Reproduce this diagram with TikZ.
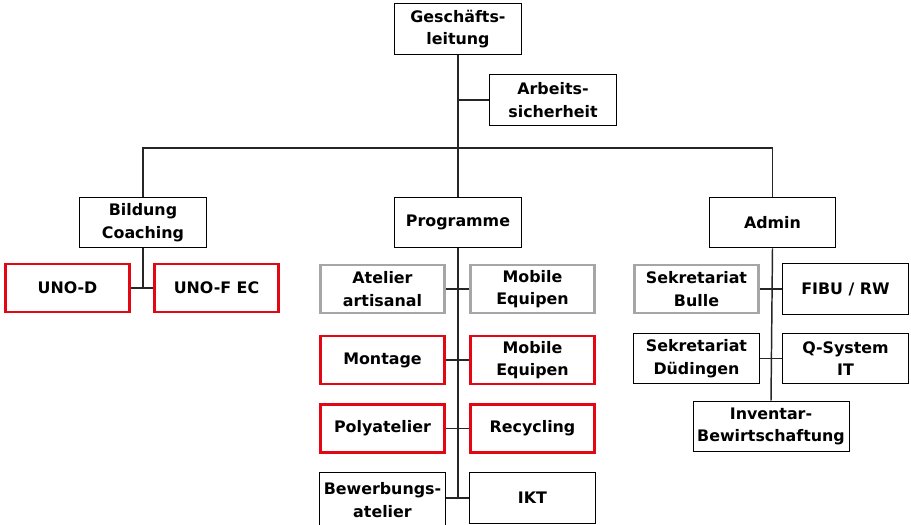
\documentclass[tikz,border=0pt]{standalone}
\usepackage{fontspec}
\setmainfont{DejaVu Sans}
\usepackage{tikz}
\usetikzlibrary{calc, positioning}
\definecolor{unored}{RGB}{227,6,19}
\definecolor{boxgrey}{RGB}{166,166,166}
\tikzstyle{boxb}=[shape=rectangle, draw=black, line width=0.75pt, fill=white, align=center, font=\bfseries\fontsize{11.9}{17}\selectfont, minimum width=95pt, minimum height=38pt, inner sep=1pt]
\tikzstyle{boxr}=[boxb, draw=unored, line width=2.2pt, minimum width=93.5pt, minimum height=36pt]
\tikzstyle{boxg}=[boxb, draw=boxgrey, line width=2.2pt, minimum width=93.5pt, minimum height=36pt]
\tikzstyle{conn}=[draw=black!85, line width=1.1pt]

\begin{document}
\begin{tikzpicture}[x=0.75pt, y=-0.75pt]
\useasboundingbox (0,0) rectangle (911,525);
\clip (0,0) rectangle (911,525);
\coordinate (tl) at (143,148);
\node [boxb](gl) at (458,29){Geschäfts-\\leitung};
\node [boxb](asi) at (553,100){Arbeits-\\sicherheit};
\node [boxb](bild) at (143,222.5){Bildung\\Coaching};
\node [boxb](prog) at (458,222.5){Programme};
\node [boxb](adm) at (772.5,222.5){Admin};
\draw [conn] (gl.south) -- (prog.north) (asi.west) -- (asi.west -| gl.south);
\draw [conn] (bild.north) |- (tl -| adm.north) -- (adm.north);
% Bildung Coaching
\tikzstyle{every node}=[boxr];
\node (unod) at (67.5,288){UNO-D};
\node (unof) at (216.5,288){UNO-F EC};
\draw [conn] (bild.south) -- (bild.south |- unod.east) (unod.east) -- (unof.west);
% Programme
\tikzstyle{every node}=[boxg];
\node (atel) at (382.5,289){Atelier\\artisanal};
\node (mob1) at (532.5,289){Mobile\\Equipen};
\tikzstyle{every node}=[boxr];
\node (mont) at (382.5,360){Montage};\node (mob2) at (532.5,360){Mobile\\Equipen};
\node (poly) at (382.5,428.5){Polyatelier};\node (recy) at (532.5,428.5){Recycling};
\tikzstyle{every node}=[boxb];
\node [minimum height=41pt](bew) at (382.5,500){Bewerbungs-\\atelier};
\node (ikt) at (532.5,498){IKT};
\draw [conn] (prog.south) -- (prog.south |- ikt.west);
\draw [conn] (atel.east) -- (mob1.west) (mont.east) -- (mob2.west) (poly.east) -- (recy.west);
\draw [conn] (bew.east |- ikt.west) -- (ikt.west);
% Admin
\tikzstyle{every node}=[boxg];
\node (sbul) at (696.5,289){Sekretariat\\Bulle};
\tikzstyle{every node}=[boxb];
\node (fibu) at (845.5,289){FIBU / RW};
\node (sdue) at (696.5,358.5){Sekretariat\\Düdingen};
\node (qsys) at (845.5,358.5){Q-System\\IT};
\node [minimum width=117pt](inv) at (771,426.5){Inventar-\\Bewirtschaftung};
\draw [conn] (adm.south) -- (inv.north);
\draw [conn] (sbul.east) -- (fibu.west) (sdue.east) -- (qsys.west);
\end{tikzpicture}
\end{document}
